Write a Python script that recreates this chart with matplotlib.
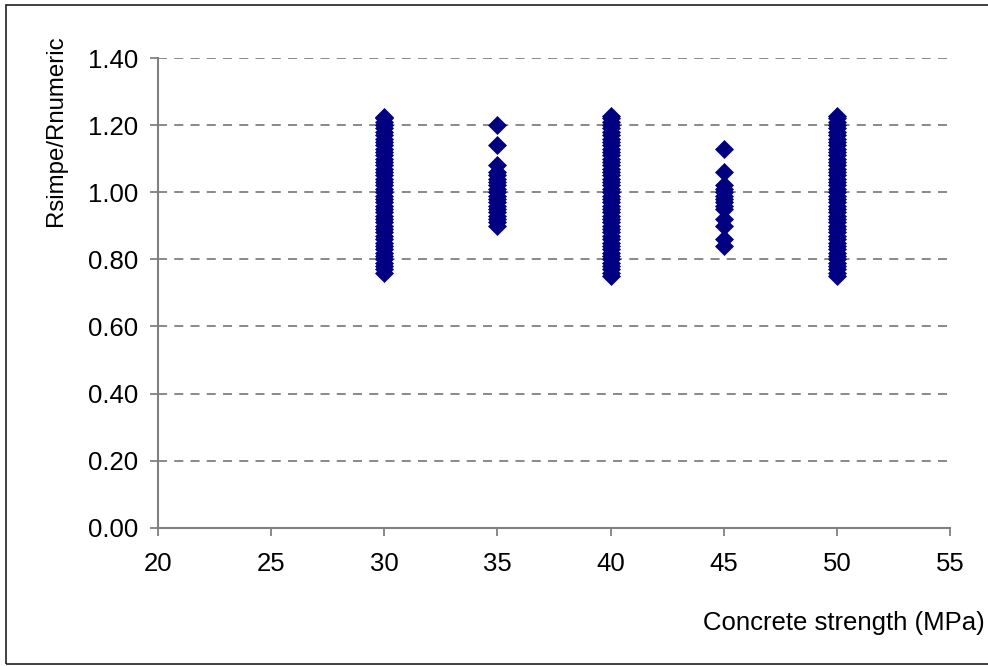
#!/usr/bin/env python3
"""
Ratio of simplified to numerical resistance vs. concrete strength
"""

import matplotlib
matplotlib.use("Agg")
import matplotlib.pyplot as plt
from matplotlib.patches import Rectangle

plt.rcParams['font.family'] = ['Liberation Sans', 'DejaVu Sans']

# Concrete strength classes (MPa) and the ratios obtained for each
fc_30 = 30
ratio_30 = [0.76, 0.77, 0.78, 0.79, 0.80, 0.81, 0.82, 0.83, 0.84, 0.85,
            0.86, 0.87, 0.88, 0.89, 0.90, 0.91, 0.92, 0.93, 0.94, 0.95,
            0.96, 0.97, 0.98, 0.99, 1.00, 1.01, 1.02, 1.03, 1.04, 1.05,
            1.06, 1.07, 1.08, 1.09, 1.10, 1.11, 1.12, 1.13, 1.14, 1.15,
            1.16, 1.17, 1.18, 1.19, 1.20, 1.21, 1.22, 1.225]

fc_35 = 35
ratio_35 = [0.90, 0.91, 0.92, 0.93, 0.94, 0.95, 0.96, 0.97, 0.98, 0.99,
            1.00, 1.01, 1.02, 1.03, 1.04, 1.05, 1.06, 1.08, 1.14, 1.20]

fc_40 = 40
ratio_40 = [0.75, 0.76, 0.77, 0.78, 0.79, 0.80, 0.81, 0.82, 0.83, 0.84,
            0.85, 0.86, 0.87, 0.88, 0.89, 0.90, 0.91, 0.92, 0.93, 0.94,
            0.95, 0.96, 0.97, 0.98, 0.99, 1.00, 1.01, 1.02, 1.03, 1.04,
            1.05, 1.06, 1.07, 1.08, 1.09, 1.10, 1.11, 1.12, 1.13, 1.14,
            1.15, 1.16, 1.17, 1.18, 1.19, 1.20, 1.21, 1.22, 1.228]

fc_45 = 45
ratio_45 = [0.84, 0.86, 0.90, 0.92, 0.95, 0.96, 0.97, 0.98, 0.99, 1.00,
            1.01, 1.02, 1.06, 1.13]

fc_50 = 50
ratio_50 = [0.75, 0.76, 0.77, 0.78, 0.79, 0.80, 0.81, 0.82, 0.83, 0.84,
            0.85, 0.86, 0.87, 0.88, 0.89, 0.90, 0.91, 0.92, 0.93, 0.94,
            0.95, 0.96, 0.97, 0.98, 0.99, 1.00, 1.01, 1.02, 1.03, 1.04,
            1.05, 1.06, 1.07, 1.08, 1.09, 1.10, 1.11, 1.12, 1.13, 1.14,
            1.15, 1.16, 1.17, 1.18, 1.19, 1.20, 1.21, 1.22, 1.228]

x_ticks = [20, 25, 30, 35, 40, 45, 50, 55]
y_ticks = [0.0, 0.2, 0.4, 0.6, 0.8, 1.0, 1.2, 1.4]

W, H = 988, 666
GRAY = '#808080'
NAVY = '#000080'
FS = 18.5


def main():
    fig = plt.figure(figsize=(W / 100, H / 100), dpi=100)
    fig.patch.set_facecolor('white')

    # outer frame
    fig.patches.append(Rectangle((6 / W, 1 - 664 / H), 1.0, (664 - 5) / H,
                                 transform=fig.transFigure, fill=False,
                                 edgecolor='#202020', linewidth=1.2))

    ax = fig.add_axes([158 / W, 1 - 527.7 / H, (950 - 158) / W, (527.7 - 58) / H])

    for fc, ratios in [(fc_30, ratio_30), (fc_35, ratio_35), (fc_40, ratio_40),
                       (fc_45, ratio_45), (fc_50, ratio_50)]:
        ax.plot([fc] * len(ratios), ratios, linestyle='none', marker='D',
                markersize=9.5, color=NAVY, markeredgecolor=NAVY,
                markeredgewidth=0.5, zorder=3)

    ax.set_xlim(20, 55)
    ax.set_ylim(0, 1.4)
    ax.set_xticks(x_ticks)
    ax.set_yticks(y_ticks)
    ax.set_xticklabels([str(v) for v in x_ticks])
    ax.set_yticklabels([f"{v:.2f}" for v in y_ticks])

    for v in y_ticks[1:]:
        ax.axhline(v, color=GRAY, linewidth=1.3, linestyle=(0, (5, 4)), zorder=1)

    for side in ('top', 'right'):
        ax.spines[side].set_visible(False)
    for side in ('left', 'bottom'):
        ax.spines[side].set_color(GRAY)
        ax.spines[side].set_linewidth(1.5)

    ax.tick_params(axis='both', colors=GRAY, labelcolor='black', labelsize=FS,
                   direction='out', length=5.5, width=1.3)
    ax.tick_params(axis='x', pad=12)
    ax.tick_params(axis='y', pad=9)

    fig.text(56 / W, 1 - 131 / H, "Rsimpe/Rnumeric", rotation=90, fontsize=17.3,
             ha='center', va='center')
    fig.text(985 / W, 1 - 623 / H, "Concrete strength (MPa)", fontsize=FS,
             ha='right', va='center')

    fig.savefig("out.png", dpi=100, facecolor='white')
    plt.close(fig)


if __name__ == "__main__":
    main()
